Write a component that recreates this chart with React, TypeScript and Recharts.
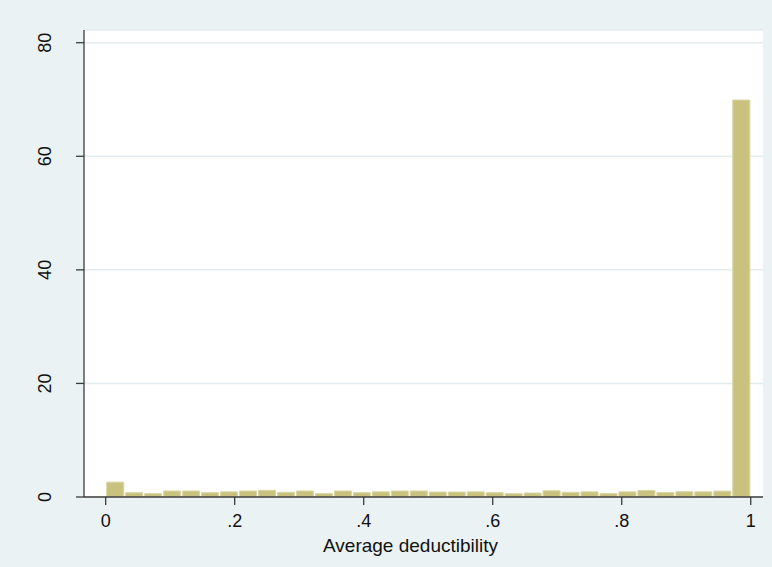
import { Bar, BarChart, CartesianGrid, XAxis, YAxis } from 'recharts';

// Histogram of average deductibility, 34 equal-width bins on [0, 1], heights in percent
const BIN_COUNT = 34;
const percents = [
    2.62, 0.76, 0.59, 1.06, 1.06, 0.76, 0.91, 1.06, 1.17, 0.82, 1.06, 0.59,
    1.06, 0.76, 0.91, 1.06, 1.06, 0.88, 0.88, 0.91, 0.76, 0.59, 0.7, 1.1,
    0.82, 0.91, 0.6, 0.91, 1.15, 0.8, 0.94, 0.91, 1.03, 69.9,
];
const xTicks = [0, 0.2, 0.4, 0.6, 0.8, 1];
const yTicks = [0, 20, 40, 60, 80];
const xLabel = 'Average deductibility';

const data = percents.map((pct, i) => ({ mid: (i + 0.5) / BIN_COUNT, pct }));

const W = 772;
const H = 567;
const MARGIN = { top: 30, right: 9, bottom: 0, left: 0 };
const Y_AXIS_W = 84;
const X_AXIS_H = 70;
const X_DOMAIN: [number, number] = [-0.0336, 1.019];
const Y_DOMAIN: [number, number] = [0, 82.24];

const plotW = W - MARGIN.left - MARGIN.right - Y_AXIS_W;
const barPx = (plotW / (X_DOMAIN[1] - X_DOMAIN[0])) / BIN_COUNT;

const FONT = '"Liberation Sans", Arial, Helvetica, sans-serif';
const AXIS = '#3c3c3c';

const fmtX = (v: number) => (v === 0 || v === 1 ? String(v) : String(v).replace(/^0/, ''));

function XTick({ x, y, payload }: any) {
    return (
        <text x={x} y={y + 20} textAnchor="middle" fontSize={18} fontFamily={FONT} fill="#111">
            {fmtX(payload.value)}
        </text>
    );
}

function YTick({ x, y, payload }: any) {
    return (
        <text
            transform={`translate(${x - 29}, ${y}) rotate(-90)`}
            textAnchor="middle"
            dy="0.36em"
            fontSize={18}
            fontFamily={FONT}
            fill="#111"
        >
            {payload.value}
        </text>
    );
}

function XTitle({ viewBox }: any) {
    const { x, width } = viewBox;
    return (
        <text x={x + width / 2 - 13} y={551.5} textAnchor="middle" fontSize={19} fontFamily={FONT} fill="#111">
            {xLabel}
        </text>
    );
}

export default function App() {
    return (
        <div style={{ position: 'absolute', left: 0, top: 0, width: W, height: H, background: '#eaf2f3' }}>
            <BarChart width={W} height={H} data={data} margin={MARGIN} barGap={0}>
                <CartesianGrid vertical={false} fill="#ffffff" stroke="#e3ecee" strokeWidth={1.5} />
                <XAxis
                    dataKey="mid"
                    type="number"
                    domain={X_DOMAIN}
                    ticks={xTicks}
                    height={X_AXIS_H}
                    allowDataOverflow
                    stroke={AXIS}
                    strokeWidth={1.3}
                    tickSize={8}
                    tick={<XTick />}
                    label={<XTitle />}
                />
                <YAxis
                    type="number"
                    domain={Y_DOMAIN}
                    ticks={yTicks}
                    width={Y_AXIS_W}
                    allowDataOverflow
                    stroke={AXIS}
                    strokeWidth={1.3}
                    tickSize={8}
                    tick={<YTick />}
                />
                <Bar
                    dataKey="pct"
                    barSize={barPx}
                    fill="#c9c27f"
                    stroke="#dad6a6"
                    strokeWidth={1}
                    isAnimationActive={false}
                />
            </BarChart>
        </div>
    );
}
